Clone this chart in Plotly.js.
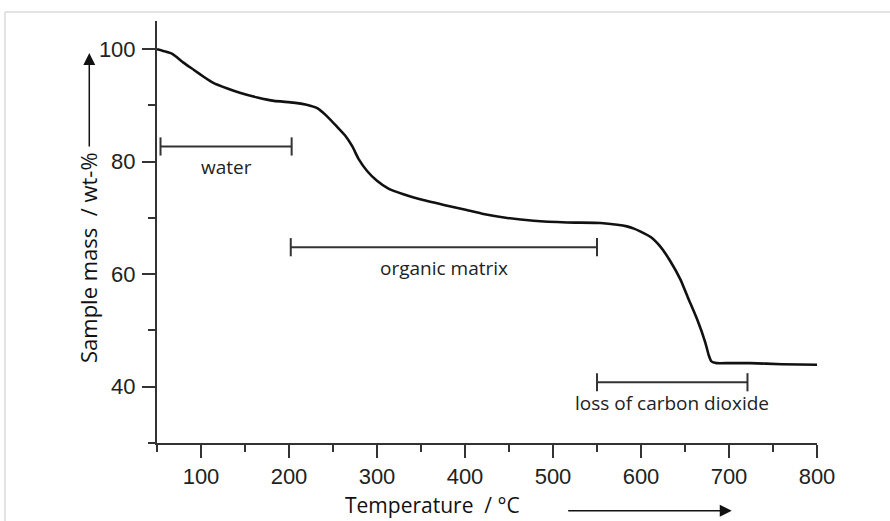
<!DOCTYPE html>
<html>
<head>
<meta charset="utf-8">
<script src="https://cdn.plot.ly/plotly-3.0.1.min.js"></script>
<style>
  html, body { margin: 0; padding: 0; background: #ffffff; }
  #chart { width: 890px; height: 521px; }
</style>
</head>
<body>
<div id="chart"></div>
<script>
// Thermogravimetric curve: temperature (°C) vs sample mass (wt-%)
const temperature = [50, 59, 67, 73, 80, 92, 103, 114, 130, 145, 164, 183, 205, 220, 232, 243, 254, 264, 272, 279, 289, 300, 313, 330, 349, 376, 402, 421, 448, 478, 516, 554, 573, 584, 592, 599, 611, 622, 633, 645, 654, 664, 673, 677, 680, 686, 700, 724, 760, 800];
const sampleMass  = [100, 99.6, 99.2, 98.5, 97.6, 96.3, 95.1, 94.0, 93.0, 92.2, 91.4, 90.8, 90.5, 90.1, 89.5, 88.1, 86.3, 84.6, 82.7, 80.5, 78.3, 76.6, 75.2, 74.2, 73.3, 72.3, 71.4, 70.7, 70.0, 69.5, 69.2, 69.1, 68.8, 68.5, 68.1, 67.6, 66.6, 64.9, 62.4, 59.0, 55.6, 51.9, 47.9, 45.6, 44.5, 44.2, 44.2, 44.2, 44.0, 43.9];

// Temperature ranges of the decomposition stages
const stageLabels = ["water", "organic matrix", "loss of carbon dioxide"];
const stageStart  = [54, 202, 550];
const stageEnd    = [203, 550, 721];
const stageLevel  = [82.7, 64.8, 40.8];

// Axis ticks
const xTickVals = [100, 200, 300, 400, 500, 600, 700, 800];
const yTickVals = [40, 60, 80, 100];

const traces = [{
  x: temperature, y: sampleMass, type: 'scatter', mode: 'lines',
  line: { color: '#111111', width: 2.6, shape: 'spline', smoothing: 0.4 }, hoverinfo: 'skip'
}];

stageLabels.forEach((lab, i) => {
  traces.push({
    x: [stageStart[i], stageEnd[i]], y: [stageLevel[i], stageLevel[i]],
    type: 'scatter', mode: 'lines+markers',
    line: { color: '#333333', width: 2 },
    marker: { symbol: 'line-ns-open', size: 13, line: { color: '#333333', width: 2 } },
    hoverinfo: 'skip'
  });
});

const annFont = { family: 'Open Sans, sans-serif', size: 19, color: '#222222' };
const annotations = stageLabels.map((lab, i) => ({
  x: (stageStart[i] + stageEnd[i]) / 2, y: stageLevel[i], xref: 'x', yref: 'y',
  text: lab, showarrow: false, yshift: -21, font: annFont,
  xanchor: 'center', yanchor: 'middle'
}));

annotations.push({
  xref: 'paper', yref: 'paper', x: -0.1045, y: 0.4384, text: 'Sample mass  / wt-%',
  textangle: -90, showarrow: false, font: { family: 'Open Sans, sans-serif', size: 22, color: '#111111' },
  xanchor: 'center', yanchor: 'middle'
});
annotations.push({
  xref: 'paper', yref: 'paper', x: 0.4174, y: -0.1475, text: 'Temperature  / °C',
  showarrow: false, font: { family: 'Open Sans, sans-serif', size: 21, color: '#111111' },
  xanchor: 'center', yanchor: 'middle', borderpad: 0
});
// arrows next to axis titles
annotations.push({
  xref: 'paper', yref: 'paper', x: -0.1026, y: 0.924, text: '',
  showarrow: true, ax: 0, ay: 95, arrowhead: 2, arrowsize: 1.6, arrowwidth: 1.5, arrowcolor: '#111111'
});
annotations.push({
  xref: 'paper', yref: 'paper', x: 0.8708, y: -0.1604, text: '',
  showarrow: true, ax: -165, ay: 0, arrowhead: 2, arrowsize: 1.6, arrowwidth: 1.5, arrowcolor: '#111111'
});

const tickFont = { family: 'Liberation Sans, Arial, sans-serif', size: 22, color: '#222222' };

const layout = {
  width: 890, height: 521,
  margin: { l: 157, r: 73, t: 21, b: 78 },
  paper_bgcolor: '#ffffff', plot_bgcolor: '#ffffff',
  showlegend: false,
  xaxis: {
    range: [50, 800], tickvals: xTickVals, ticks: 'outside', ticklen: 13, tickwidth: 2,
    tickcolor: '#333333', showline: true, linecolor: '#333333', linewidth: 2,
    showgrid: false, zeroline: false, tickfont: tickFont, ticklabelstandoff: 0,
    minor: { dtick: 50, tick0: 0, ticks: 'outside', ticklen: 7, tickwidth: 2, tickcolor: '#333333', showgrid: false }
  },
  yaxis: {
    range: [30, 105], tickvals: yTickVals, ticks: 'outside', ticklen: 13, tickwidth: 2,
    tickcolor: '#333333', showline: true, linecolor: '#333333', linewidth: 2,
    showgrid: false, zeroline: false, tickfont: tickFont, ticklabelstandoff: 2,
    minor: { dtick: 10, tick0: 0, ticks: 'outside', ticklen: 7, tickwidth: 2, tickcolor: '#333333', showgrid: false }
  },
  annotations: annotations,
  shapes: [
    { type: 'line', xref: 'paper', yref: 'paper', x0: -0.2303, x1: 1.12, y0: 1.0213, y1: 1.0213,
      line: { color: '#e3e3e3', width: 2 }, layer: 'below' },
    { type: 'line', xref: 'paper', yref: 'paper', x0: -0.2303, x1: -0.2303, y0: -0.2, y1: 1.0213,
      line: { color: '#e3e3e3', width: 2 }, layer: 'below' }
  ]
};

Plotly.newPlot('chart', traces, layout, { displayModeBar: false, staticPlot: true });
</script>
</body>
</html>
